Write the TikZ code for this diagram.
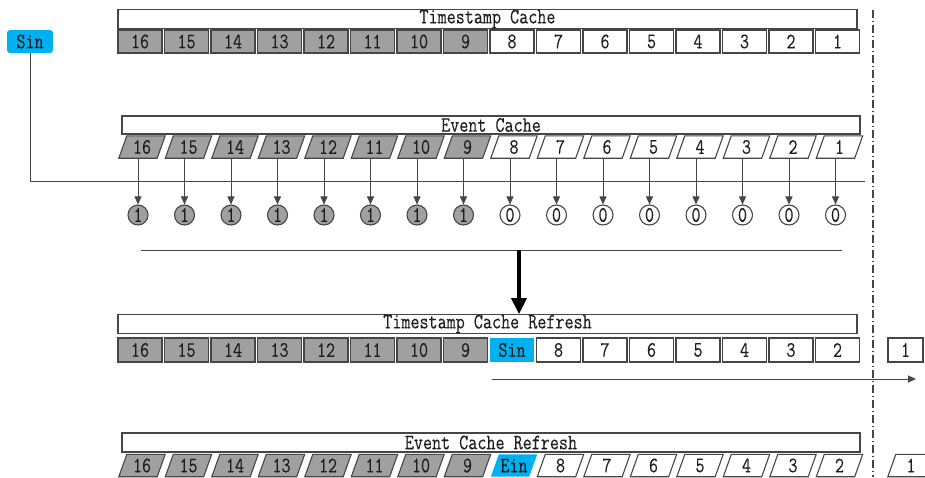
\documentclass[tikz,border=0pt]{standalone}
\usepackage{fontspec}
\setmonofont{Latin Modern Mono}[FakeStretch=0.8, FakeBold=0.2]
\usetikzlibrary{arrows.meta,calc}
\definecolor{cellgray}{RGB}{160,160,160}
\definecolor{edgegray}{RGB}{70,70,70}
\definecolor{hilite}{RGB}{0,176,240}
\tikzset{
  lab/.style={font=\ttfamily\fontsize{22}{22}\selectfont, text={rgb,255:red,30;green,30;blue,30}, inner sep=0pt},
  header/.style={lab, draw=edgegray, line width=1.1pt, fill=white},
  cell/.style={lab, draw=edgegray, line width=1.1pt, minimum width=44pt, minimum height=23pt},
  pcell/.style={lab, minimum width=38pt, minimum height=22pt},
  bit/.style={lab, circle, draw=edgegray, line width=1.1pt, minimum size=20pt},
  link/.style={edgegray, line width=0.9pt},
  tick/.style={link, -{Triangle[width=7pt,length=8pt]}},
  bigarrow/.style={black, line width=3.5pt, -{Triangle[width=15pt,length=16pt]}},
  divider/.style={edgegray, line width=1.1pt, dash pattern=on 8pt off 3pt on 1pt off 3pt},
}
% parallelogram outline around a pcell node
\newcommand{\slantbox}[2]{%
  \filldraw[draw=edgegray, line width=1.1pt, fill=#2]
    ([xshift=-4pt]#1.south west) -- ([xshift=4pt]#1.north west) --
    ([xshift=4pt]#1.north east) -- ([xshift=-4pt]#1.south east) -- cycle;}
\begin{document}
\begin{tikzpicture}[x=1pt,y=-1pt]
\useasboundingbox (0,0) rectangle (925,477);

% ---- headers
\node[header, minimum width=739pt, minimum height=18pt] (hts) at (487.5,19) {Timestamp Cache};
\node[header, minimum width=738pt, minimum height=18pt] (hev) at (491,125) {Event Cache};
\node[header, minimum width=739pt, minimum height=18pt] (htr) at (487.5,324) {Timestamp Cache Refresh};
\node[header, minimum width=738pt, minimum height=19pt] (her) at (491,442.5) {Event Cache Refresh};

% ---- timestamp cache row
\foreach \i in {0,...,15}{
  \pgfmathtruncatemacro{\v}{16-\i}
  \ifnum\i<8 \def\fc{cellgray}\else\def\fc{white}\fi
  \node[cell, fill=\fc] (t\v) at ({140+46.5*\i},41.5) {\v};
}

% ---- input timestamp
\node[lab, fill=hilite, rounded corners=3pt, minimum width=46pt, minimum height=23pt] (sin) at (30,41.5) {Sin};
\coordinate (sinturn) at (30,181);
\coordinate (sinend) at (865,181);
\draw[link] (sin.south) -- (sinturn) -- (sinend);

% ---- event cache row, flags below
\foreach \i in {0,...,15}{
  \pgfmathtruncatemacro{\v}{16-\i}
  \ifnum\i<8 \def\fc{cellgray}\def\b{1}\else\def\fc{white}\def\b{0}\fi
  \node[pcell] (e\v) at ({142+46.5*\i},147) {};
  \slantbox{e\v}{\fc}
  \node[lab] at (e\v) {\v};
  \node[bit, fill=\fc] (f\v) at ({138+46.5*\i},215) {\b};
  \draw[tick] ([xshift=-4pt]e\v.south) -- (f\v.north);
}

% ---- merge line and refresh arrow
\coordinate (mleft) at (141,250);
\coordinate (mright) at (842,250);
\draw[link] (mleft) -- (mright);
\coordinate (mdrop) at (519,250);
\draw[bigarrow] (mdrop) -- (mdrop |- htr.north);

% ---- refreshed timestamp row
\foreach \i in {0,...,7}{
  \pgfmathtruncatemacro{\v}{16-\i}
  \node[cell, fill=cellgray, minimum height=24pt] (r\v) at ({140+46.5*\i},350) {\v};
}
\node[lab, fill=hilite, minimum width=44pt, minimum height=24pt] (rsin) at ({140+46.5*8},350) {Sin};
\foreach \i in {9,...,15}{
  \pgfmathtruncatemacro{\v}{17-\i}
  \node[cell, fill=white, minimum height=24pt] (r\v) at ({140+46.5*\i},350) {\v};
}
\node[cell, fill=white, minimum width=35pt, minimum height=24pt] (rout) at (905.5,350) {1};

% ---- shift arrow
\coordinate (sstart) at (492,379);
\coordinate (send) at (916,379);
\draw[tick] (sstart) -- (send);

% ---- refreshed event row
\foreach \i in {0,...,7}{
  \pgfmathtruncatemacro{\v}{16-\i}
  \node[pcell] (q\v) at ({142+46.5*\i},465.5) {};
  \slantbox{q\v}{cellgray}
  \node[lab] at (q\v) {\v};
}
\node[pcell] (qein) at ({142+46.5*8},465.5) {};
\fill[hilite] ([xshift=-4pt]qein.south west) -- ([xshift=4pt]qein.north west) --
  ([xshift=4pt]qein.north east) -- ([xshift=-4pt]qein.south east) -- cycle;
\node[lab] at (qein) {Ein};
\foreach \i in {9,...,15}{
  \pgfmathtruncatemacro{\v}{17-\i}
  \node[pcell] (q\v) at ({142+46.5*\i},465.5) {};
  \slantbox{q\v}{white}
  \node[lab] at (q\v) {\v};
}
\node[pcell] (qout) at (911,465.5) {};
\slantbox{qout}{white}
\node[lab] at (qout) {1};

% ---- cache boundary
\coordinate (btop) at (873,10);
\coordinate (bbot) at (873,477);
\draw[divider] (btop) -- (bbot);
\end{tikzpicture}
\end{document}
